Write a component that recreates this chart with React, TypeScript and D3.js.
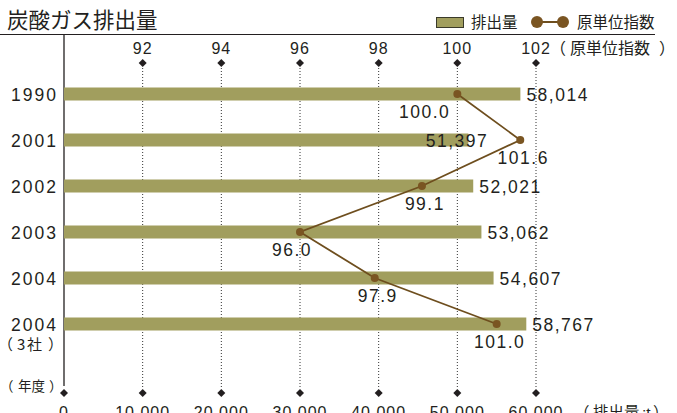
import React from "react";
import * as d3 from "d3";

const years = ["1990", "2001", "2002", "2003", "2004", "2004"];
const emissions = [58014, 51397, 52021, 53062, 54607, 58767];
const indexValues = [100.0, 101.6, 99.1, 96.0, 97.9, 101.0];
const bottomTicks = [0, 10000, 20000, 30000, 40000, 50000, 60000];
const topTicks = [92, 94, 96, 98, 100, 102];

const W = 677;
const H = 413;
const FONT = "'Liberation Sans', Arial, 'Noto Sans CJK JP', sans-serif";
const JP = "'Noto Sans CJK JP', 'Liberation Sans', sans-serif";
const BAR = "#a19e5e";
const LINE = "#6e4e1e";
const DOT = "#7a5522";
const TXT = "#231f20";

function Diamond({ x, y }: { x: number; y: number }) {
  const s = 4;
  return <path d={`M${x},${y - s}L${x + s},${y}L${x},${y + s}L${x - s},${y}Z`} fill={TXT} />;
}

// a full-width bracketed label with extra space inside the brackets
function Bracketed({
  x,
  y,
  size,
  parts,
}: {
  x: number;
  y: number;
  size: number;
  parts: { t: string; dx: number; latin?: boolean }[];
}) {
  return (
    <text y={y} fontFamily={JP} fontSize={size} fill={TXT}>
      {parts.map((p, i) => (
        <tspan key={i} x={x + p.dx} fontFamily={p.latin ? FONT : JP}>
          {p.t}
        </tspan>
      ))}
    </text>
  );
}

export default function App() {
  const x = d3.scaleLinear().domain([0, 60000]).range([64, 536]);
  const xi = d3.scaleLinear().domain([90, 102]).range([64, 536]);
  const y = d3
    .scaleBand<number>()
    .domain(d3.range(years.length))
    .range([71, 347])
    .paddingInner(0.72)
    .paddingOuter(0.36);
  const bh = 13;
  const cy = (i: number) => (y(i) as number) + y.bandwidth() / 2;

  const line = d3
    .line<number>()
    .x((d) => xi(d))
    .y((_, i) => cy(i));

  const fmt = d3.format(",");

  return (
    <svg width={W} height={H} style={{ position: "absolute", left: 0, top: 0 }}>
      <rect width={W} height={H} fill="#fff" />
      {/* title */}
      <text x={7} y={28} fontFamily={JP} fontSize={21.5} fill={TXT}>
        炭酸ガス排出量
      </text>
      {/* legend */}
      <rect x={436.5} y={17.5} width={27} height={10} fill={BAR} stroke="#3a3a2a" strokeWidth={1} />
      <text x={471} y={28} fontFamily={JP} fontSize={15.5} fill={TXT}>
        排出量
      </text>
      <line x1={537} x2={563} y1={22} y2={22} stroke={LINE} strokeWidth={2} />
      <circle cx={537} cy={22} r={6} fill={DOT} />
      <circle cx={563} cy={22} r={6} fill={DOT} />
      <text x={577} y={28} fontFamily={JP} fontSize={15.5} fill={TXT}>
        原単位指数
      </text>
      <line x1={0} x2={655} y1={34.5} y2={34.5} stroke={TXT} strokeWidth={1.2} />

      {/* top axis */}
      {topTicks.map((t) => (
        <g key={"t" + t}>
          <text
            x={xi(t)}
            y={53.5}
            textAnchor="middle"
            fontFamily={FONT}
            fontSize={16}
            letterSpacing={1}
            fill={TXT}
          >
            {t}
          </text>
          <Diamond x={xi(t)} y={63} />
        </g>
      ))}
      <Bracketed
        x={xi(102)}
        y={53.5}
        size={16}
        parts={[
          { t: "（", dx: 14 },
          { t: "原単位指数", dx: 34 },
          { t: "）", dx: 123 },
        ]}
      />

      {/* gridlines */}
      {bottomTicks.slice(1).map((t) => (
        <line
          key={"g" + t}
          x1={x(t)}
          x2={x(t)}
          y1={68}
          y2={387}
          stroke="#333"
          strokeWidth={1}
          strokeDasharray="1,2"
        />
      ))}
      {/* left axis */}
      <line x1={64} x2={64} y1={35} y2={386} stroke={TXT} strokeWidth={1.3} />

      {/* bottom axis */}
      {bottomTicks.map((t) => (
        <g key={"b" + t}>
          <Diamond x={x(t)} y={393} />
          <text
            x={x(t)}
            y={418}
            textAnchor="middle"
            fontFamily={FONT}
            fontSize={16}
            letterSpacing={1}
            fill={TXT}
          >
            {fmt(t)}
          </text>
        </g>
      ))}
      <Bracketed
        x={x(60000)}
        y={418}
        size={15.5}
        parts={[
          { t: "（", dx: 38 },
          { t: "排出量", dx: 57 },
          { t: ":t", dx: 106, latin: true },
          { t: "）", dx: 117 },
        ]}
      />
      <Bracketed
        x={0}
        y={391}
        size={13.5}
        parts={[
          { t: "（", dx: 0 },
          { t: "年度", dx: 18 },
          { t: "）", dx: 49 },
        ]}
      />

      {/* bars */}
      {emissions.map((v, i) => (
        <rect
          key={"bar" + i}
          x={x(0)}
          y={cy(i) - bh / 2}
          width={x(v) - x(0)}
          height={bh}
          fill={BAR}
        />
      ))}
      {/* year labels */}
      {years.map((yr, i) => (
        <text
          key={"y" + i}
          x={58}
          y={cy(i) + 6.5}
          textAnchor="end"
          fontFamily={FONT}
          fontSize={17.5}
          letterSpacing={2}
          fill={TXT}
        >
          {yr}
        </text>
      ))}
      <Bracketed
        x={0}
        y={350}
        size={15}
        parts={[
          { t: "（", dx: -2 },
          { t: "3", dx: 17 },
          { t: "社", dx: 27 },
          { t: "）", dx: 48 },
        ]}
      />
      {/* value labels */}
      {emissions.map((v, i) => (
        <text
          key={"v" + i}
          x={i === 1 ? x(v) + 20 : x(v) + 6}
          y={cy(i) + 7}
          textAnchor={i === 1 ? "end" : "start"}
          fontFamily={FONT}
          fontSize={17.5}
          letterSpacing={1.5}
          fill={TXT}
        >
          {fmt(v)}
        </text>
      ))}

      {/* index line */}
      <path d={line(indexValues) || ""} fill="none" stroke={LINE} strokeWidth={1.8} />
      {indexValues.map((v, i) => (
        <circle key={"c" + i} cx={xi(v)} cy={cy(i)} r={4} fill={DOT} />
      ))}
      {indexValues.map((v, i) => (
        <text
          key={"il" + i}
          x={i === 0 ? xi(v) - 7 : xi(v) + (i === 3 ? -8 : 3)}
          y={cy(i) + 23.5}
          textAnchor={i === 0 ? "end" : "middle"}
          fontFamily={FONT}
          fontSize={17.5}
          letterSpacing={1.5}
          fill={TXT}
        >
          {v.toFixed(1)}
        </text>
      ))}
    </svg>
  );
}
